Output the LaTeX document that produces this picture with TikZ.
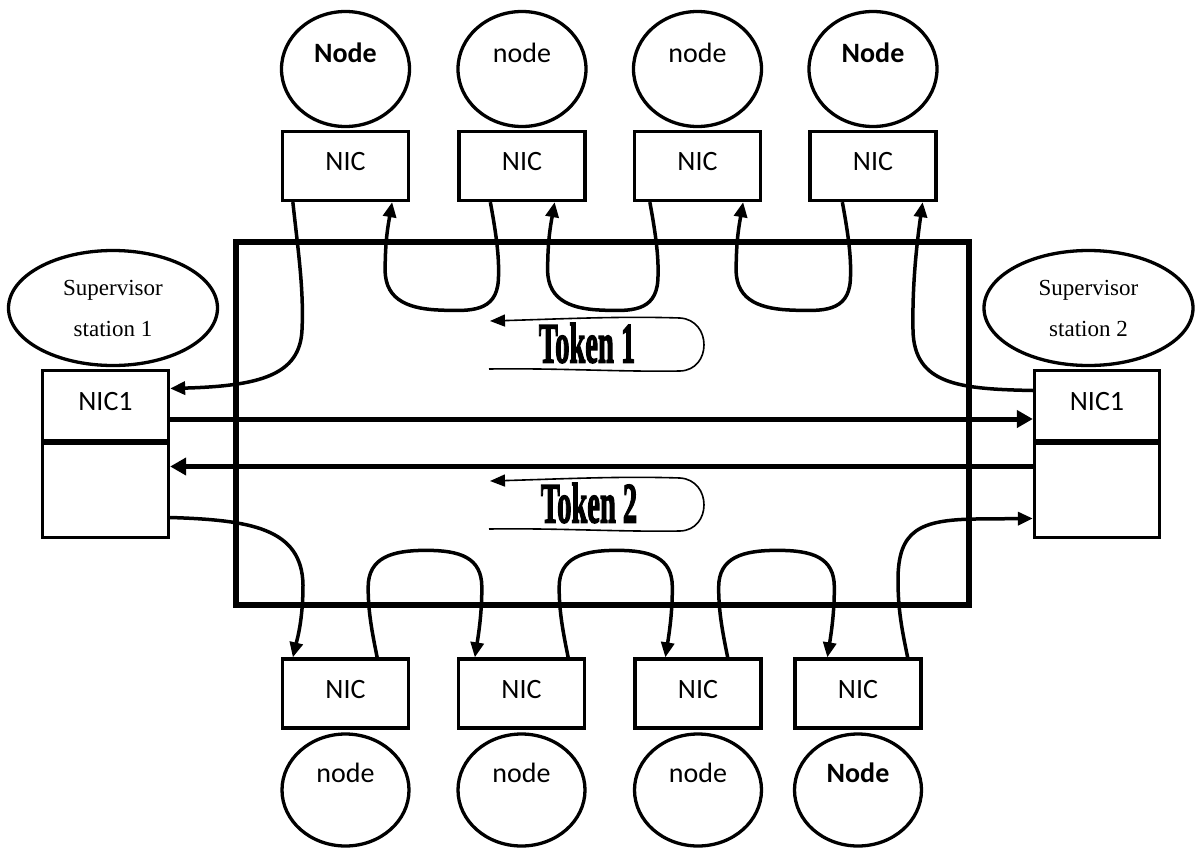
\documentclass[tikz,border=0pt]{standalone}
\usepackage{fontspec}
\setmainfont{Carlito}
\newfontfamily\timesf{Liberation Serif}
\newfontfamily\tokfont[FakeBold=3]{Liberation Serif}
\usetikzlibrary{arrows.meta,shapes.geometric,calc}
\begin{document}
\begin{tikzpicture}[x=1pt,y=-1pt,
 nodeell/.style={ellipse,draw,line width=3.3pt,inner sep=0pt,minimum width=128pt,minimum height=115pt},
 nicbox/.style={rectangle,draw,line width=3.3pt,inner sep=0pt,minimum width=126pt,minimum height=69pt,font=\fontsize{28}{30}\selectfont,text height=18pt,text depth=9pt},
 nlab/.style={font=\fontsize{28}{30}\selectfont,inner sep=0pt,anchor=base},
 supell/.style={ellipse,draw,line width=3.3pt,inner sep=0pt,minimum width=209pt,minimum height=115pt,align=center,font=\timesf\fontsize{23}{41}\selectfont},
 nicone/.style={rectangle,draw,line width=3.3pt,inner sep=0pt,minimum width=126pt,font=\fontsize{28}{30}\selectfont,text height=18pt,text depth=9pt},
 conn/.style={line width=3.5pt,-{Triangle[length=15pt,width=13pt]}},
 bus/.style={line width=5pt,-{Triangle[length=16pt,width=17pt]}},
 ringbox/.style={rectangle,draw,line width=6pt,inner sep=0pt},
 tokarrow/.style={line width=1.6pt,-{Triangle[length=15pt,width=12pt]}},
 toktext/.style={font=\tokfont\bfseries\fontsize{57}{60}\selectfont,inner sep=0pt}
]
\useasboundingbox (0,0) rectangle (1195,849);

% ring
\node[ringbox,minimum width=733pt,minimum height=363pt] (ring) at (602.5,423.5) {};

% top nodes
\foreach \n/\x in {1/345.5,2/522,3/697.5,4/873} {
  \node[nodeell] (tc\n) at (\x,69) {};
  \node[nicbox] (t\n) at (\x,166) {NIC};
}
\node[nlab] (tl1) at (345.5,62) {\bfseries Node};
\node[nlab] (tl2) at (522,62) {node};
\node[nlab] (tl3) at (697.5,62) {node};
\node[nlab] (tl4) at (873,62) {\bfseries Node};

% bottom nodes
\foreach \n/\x in {1/345.5,2/521.5,3/698,4/858} {
  \node[nicbox] (b\n) at (\x,693.5) {NIC};
  \node[nodeell,minimum width=127pt,minimum height=112pt] (bc\n) at (\x,790) {};
}
\node[nlab] (bl1) at (345.5,782) {node};
\node[nlab] (bl2) at (521.5,782) {node};
\node[nlab] (bl3) at (698,782) {node};
\node[nlab] (bl4) at (858,782) {\bfseries Node};

% supervisors
\node[supell] (sup1) at (113,308) {Supervisor\\station 1};
\node[supell] (sup2) at (1088.5,308) {Supervisor\\station 2};
\node[nicone,minimum height=70pt] (s1top) at (105.5,405.5) {NIC1};
\node[nicone,minimum height=94pt] (s1bot) at (105.5,490.5) {};
\node[nicone,minimum width=125pt,minimum height=70pt] (s2top) at (1097,405.5) {NIC1};
\node[nicone,minimum width=125pt,minimum height=94pt] (s2bot) at (1097,490.5) {};

% bus arrows
\draw[bus] ($(s1top.east)+(0,13.5)$) -- ($(s2top.west)+(0,13.5)$);
\draw[bus] ($(s2bot.west)+(0,-24)$) -- ($(s1bot.east)+(0,-24)$);

% top connectors
\draw[conn] ($(t1.south west)+(12,0)$) .. controls (298,250) and (304,290) .. (302,330) .. controls (300,375) and (260,386) .. ($(s1top.east)+(0,-17)$);
\foreach \sa/\ea/\sb/\eb in {t2/33/t1/18, t3/17/t2/32, t4/34/t3/19} {
  \coordinate (le) at ($(\sa.south west)+(\ea,0)$);
  \coordinate (la) at ($(\sb.south east)+(-\eb,0)$);
  \draw[conn] (le) .. controls ($(le)+(7,38)$) and ($(le)+(9,58)$) .. ($(le)+(8,78)$)
     .. controls ($(le)+(6,110)$) and ($(le)+(-20,109)$) .. ($(le)!0.5!(la)+(0,108)$)
     .. controls ($(la)+(20,107)$) and ($(la)+(-7,100)$) .. ($(la)+(-7,68)$)
     .. controls ($(la)+(-7,38)$) and ($(la)+(-4,23)$) .. (la);
}
\draw[conn] ($(s2top.west)+(0,-15)$) .. controls (960,389) and (914,385) .. (913,330) .. controls (912,280) and (918,235) .. ($(t4.south east)+(-15,0)$);

% bottom connectors
\draw[conn] ($(s1bot.east)+(0,27)$) .. controls (250,520) and (302,528) .. (303,585) .. controls (303,620) and (297,640) .. ($(b1.north west)+(12,0)$);
\foreach \sa/\ea/\sb/\eb in {b1/33/b2/18, b2/18/b3/32, b3/35/b4/34} {
  \coordinate (be) at ($(\sa.north east)+(-\ea,0)$);
  \coordinate (ba) at ($(\sb.north west)+(\eb,0)$);
  \draw[conn] (be) .. controls ($(be)+(-5,-25)$) and ($(be)+(-9,-45)$) .. ($(be)+(-9,-70)$)
     .. controls ($(be)+(-9,-100)$) and ($(be)+(15,-107)$) .. ($(be)!0.5!(ba)+(0,-107)$)
     .. controls ($(ba)+(-15,-107)$) and ($(ba)+(7,-100)$) .. ($(ba)+(7,-70)$)
     .. controls ($(ba)+(7,-45)$) and ($(ba)+(4,-25)$) .. (ba);
}
\draw[conn] ($(b4.north east)+(-15,0)$) .. controls (902,630) and (898,610) .. (898,580) .. controls (898,530) and (920,520) .. (975,519) -- ($(s2bot.west)+(0,28)$);

% tokens
\coordinate (k1s) at (489,369);
\coordinate (k1e) at (490,321);
\draw[tokarrow] (k1s) .. controls (560,368) and (620,372) .. (680,371) .. controls (712,370) and (712,320) .. (680,318) .. controls (620,316) and (560,319) .. (k1e);
\node[toktext] (tok1) at (587,343) {\scalebox{0.5}[1]{Token 1}};
\coordinate (k2s) at (489,529);
\coordinate (k2e) at (490,481);
\draw[tokarrow] (k2s) .. controls (560,528) and (620,532) .. (680,531) .. controls (712,530) and (712,480) .. (680,478) .. controls (620,476) and (560,479) .. (k2e);
\node[toktext] (tok2) at (589,503) {\scalebox{0.5}[1]{Token 2}};
\end{tikzpicture}
\end{document}
